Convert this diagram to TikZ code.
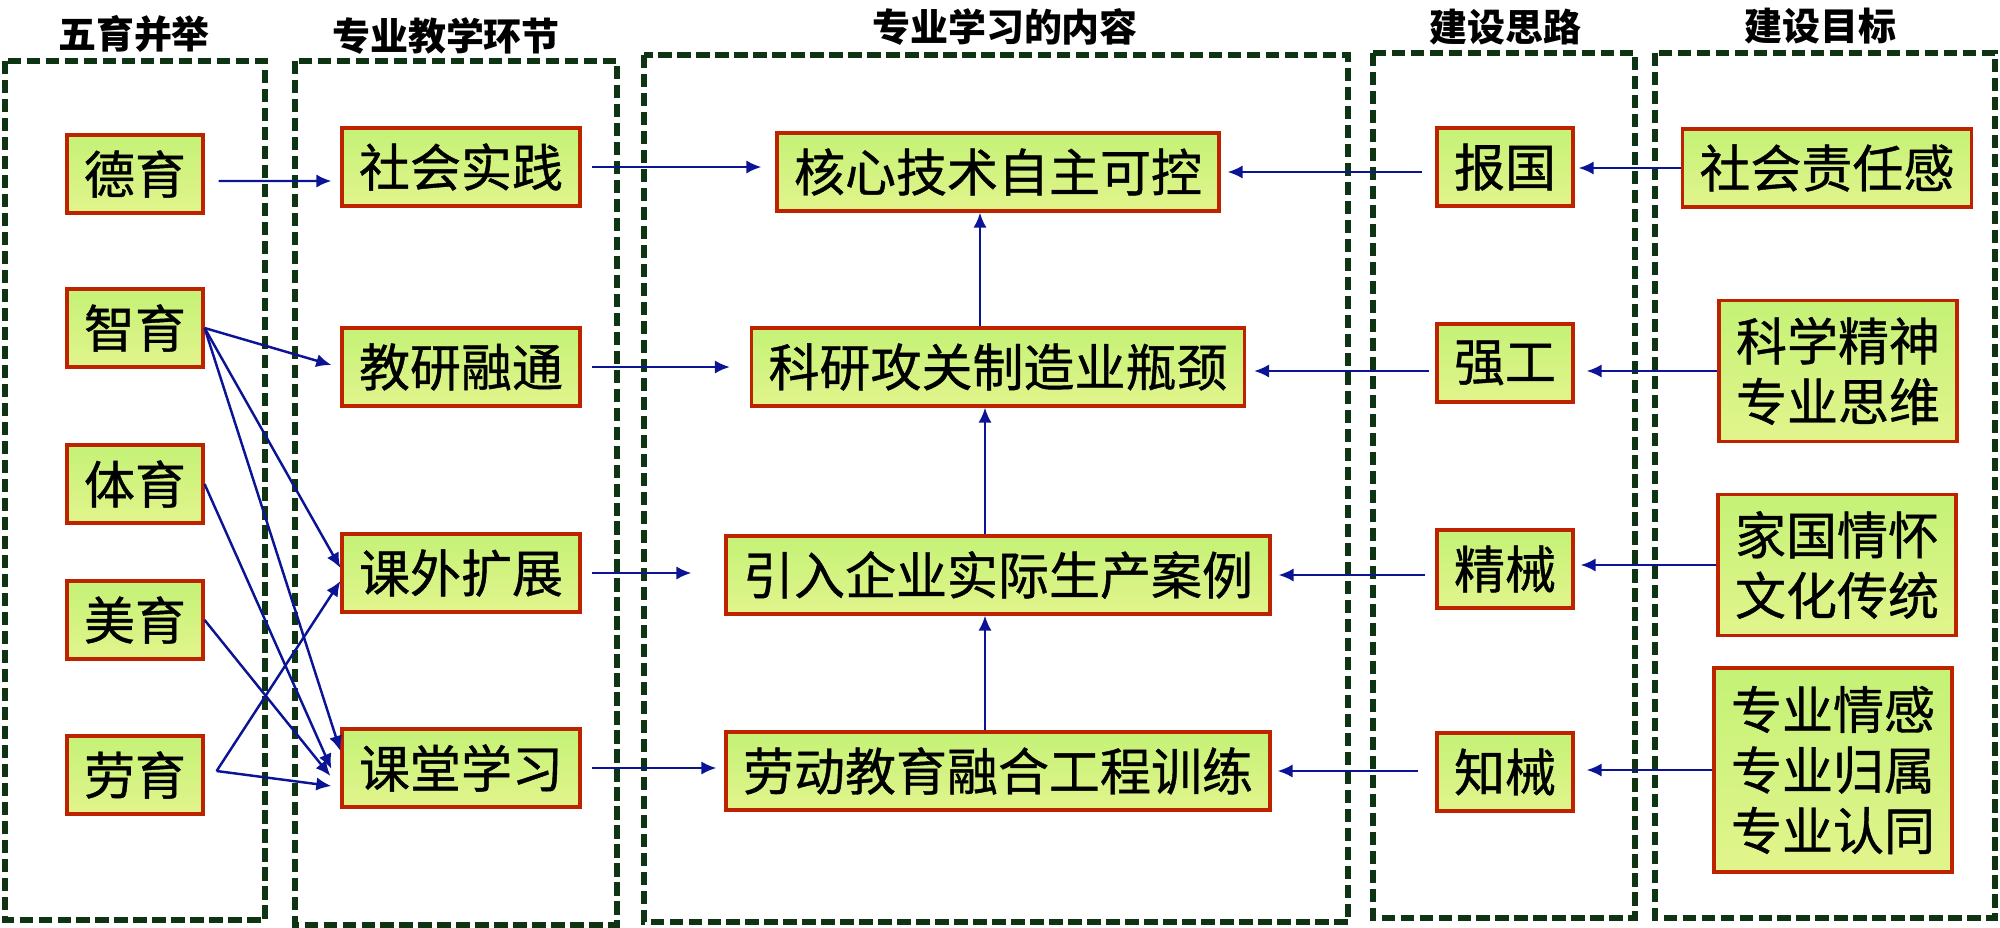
\documentclass[tikz,border=0pt]{standalone}
\usepackage{fontspec}
\setmainfont{Noto Sans CJK SC}
\newfontfamily\boxfont[FakeBold=0.8]{Noto Sans CJK SC}
\usetikzlibrary{arrows.meta}
\definecolor{boxtop}{RGB}{196,242,118}
\definecolor{boxbot}{RGB}{226,244,140}
\definecolor{boxline}{RGB}{190,35,0}
\definecolor{framegreen}{RGB}{14,52,20}
\definecolor{arrowblue}{RGB}{12,20,150}

\begin{document}
\begin{tikzpicture}[x=0.01cm,y=-0.01cm,
  box/.style={draw=boxline,line width=0.9pt,top color=boxtop,bottom color=boxbot,
    inner xsep=0.17cm,inner ysep=0pt,minimum height=0.78cm,align=center,
    font=\boxfont\fontsize{14.5pt}{17.2pt}\selectfont},
  head/.style={font=\fontsize{10.8pt}{13pt}\selectfont\bfseries},
  frame/.style={draw=framegreen,line width=1.6pt,dash pattern=on 3.8pt off 1.6pt},
  arr/.style={draw=arrowblue,line width=0.7pt,-{Latex[length=4.3pt,width=3.8pt]}}]
\useasboundingbox (0,0) rectangle (2000,927);
% Draw frames
\draw[frame] (5,61) rectangle (265,920);
\draw[frame] (295,61) rectangle (617,925);
\draw[frame] (644,55) rectangle (1348,922);
\draw[frame] (1373,53) rectangle (1635,918);
\draw[frame] (1655,53) rectangle (1995,918);
% Draw headers
\node[head] (hwy) at (134,34) {五育并举};
\node[head] (hjx) at (446,36) {专业教学环节};
\node[head] (hnr) at (1005,27) {专业学习的内容};
\node[head] (hsl) at (1505,27) {建设思路};
\node[head] (hmb) at (1820,26) {建设目标};
% Five kinds of education
\node[box] (de) at (135,174) {德育};
\node[box] (zhi) at (135,328) {智育};
\node[box] (ti) at (135,484) {体育};
\node[box] (mei) at (135,620) {美育};
\node[box] (lao) at (135,775) {劳育};
% Teaching links
\node[box] (sj) at (461,167) {社会实践};
\node[box] (jy) at (461,367) {教研融通};
\node[box] (kw) at (461,573) {课外扩展};
\node[box] (kt) at (461,768) {课堂学习};
% Contents
\node[box] (hx) at (998,172) {核心技术自主可控};
\node[box] (ky) at (998,367) {科研攻关制造业瓶颈};
\node[box] (yr) at (998,575) {引入企业实际生产案例};
\node[box] (ld) at (998,771) {劳动教育融合工程训练};
% Ideas
\node[box] (bg) at (1505,167) {报国};
\node[box] (qg) at (1505,363) {强工};
\node[box] (jx) at (1505,569) {精械};
\node[box] (zx) at (1505,772) {知械};
% Goals
\node[box] (zr) at (1827,168) {社会责任感};
\node[box,minimum height=1.41cm] (kx) at (1838,371) {科学精神\\专业思维};
\node[box,minimum height=1.41cm] (jg) at (1837,565) {家国情怀\\文化传统};
\node[box,minimum height=2.04cm] (qs) at (1833,770) {专业情感\\专业归属\\专业认同};
% Arrows to teaching links
\coordinate (laoout) at ([xshift=0.12cm,yshift=0.04cm]lao.east);
\draw[arr] ([xshift=0.14cm,yshift=-0.07cm]de.east) -- ([xshift=-0.09cm,yshift=-0.14cm]sj.west);
\draw[arr] (zhi.east) -- ([xshift=-0.09cm,yshift=0.02cm]jy.west);
\draw[arr] (zhi.east) -- ([yshift=0.05cm]kw.west);
\draw[arr] (zhi.east) -- ([yshift=0.17cm]kt.west);
\draw[arr] (ti.east) -- ([xshift=-0.09cm,yshift=-0.01cm]kt.west);
\draw[arr] (mei.east) -- ([xshift=-0.1cm,yshift=-0.08cm]kt.west);
\draw[arr] (laoout) -- ([yshift=-0.08cm]kw.west);
\draw[arr] (laoout) -- ([xshift=-0.09cm,yshift=-0.18cm]kt.west);
% Arrows to contents
\draw[arr] ([xshift=0.1cm]sj.east) -- ([xshift=-0.14cm]hx.west |- sj.east);
\draw[arr] ([xshift=0.1cm]jy.east) -- ([xshift=-0.2cm]ky.west |- jy.east);
\draw[arr] ([xshift=0.1cm]kw.east) -- ([xshift=-0.33cm]yr.west |- kw.east);
\draw[arr] ([xshift=0.1cm]kt.east) -- ([xshift=-0.08cm]ld.west |- kt.east);
\draw[arr] ([xshift=-0.13cm]ld.north) -- ([xshift=-0.13cm]yr.south);
\draw[arr] ([xshift=-0.13cm]yr.north) -- ([xshift=-0.13cm]ky.south);
\draw[arr] ([xshift=-0.18cm]ky.north) -- ([xshift=-0.18cm]hx.south);
\draw[arr] ([xshift=-0.13cm]bg.west |- hx.east) -- ([xshift=0.07cm]hx.east);
\draw[arr] ([xshift=-0.06cm]qg.west |- kx.west) -- ([xshift=0.08cm]ky.east |- kx.west);
\draw[arr] ([xshift=-0.1cm]jx.west |- yr.east) -- ([xshift=0.07cm]yr.east);
\draw[arr] ([xshift=-0.17cm]zx.west |- ld.east) -- ([xshift=0.06cm]ld.east);
% Arrows from goals
\draw[arr] (zr.west) -- ([xshift=0.04cm]bg.east |- zr.west);
\draw[arr] (kx.west) -- ([xshift=0.12cm]qg.east |- kx.west);
\draw[arr] (jg.west) -- ([xshift=0.06cm]jx.east |- jg.west);
\draw[arr] (qs.west) -- ([xshift=0.12cm]zx.east |- qs.west);
\end{tikzpicture}
\end{document}
